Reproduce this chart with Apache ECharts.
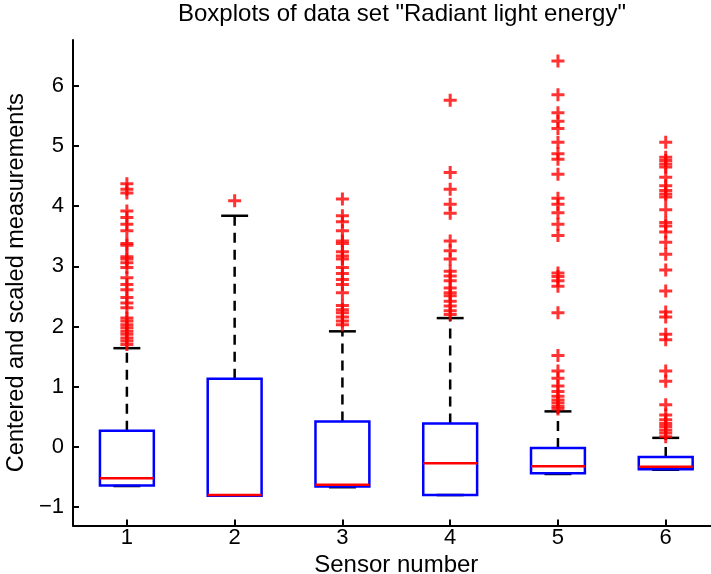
<!DOCTYPE html>
<html>
<head>
<meta charset="utf-8">
<script src="https://cdn.jsdelivr.net/npm/echarts@6/dist/echarts.min.js"></script>
<style>html,body{margin:0;padding:0;background:#fff}#c{width:711px;height:574px}</style>
</head>
<body>
<div id="c"></div>
<script>
// ---- data ----
const sensors = ['1', '2', '3', '4', '5', '6'];
const whiskerLow  = [-0.65, -0.81, -0.67, -0.80, -0.45, -0.38];
const q1          = [-0.64, -0.81, -0.66, -0.80, -0.44, -0.37];
const medians     = [-0.52, -0.80, -0.63, -0.27, -0.32, -0.33];
const q3          = [ 0.27,  1.13,  0.42,  0.39, -0.02, -0.17];
const whiskerHigh = [ 1.64,  3.84,  1.92,  2.14,  0.59,  0.15];

const outliers1 = [4.37, 4.28, 4.22, 3.92, 3.81, 3.70, 3.59, 3.38, 3.35, 3.16, 3.12, 3.06, 2.98, 2.81, 2.70, 2.61, 2.48, 2.39, 2.31, 2.14, 2.09, 2.03, 1.98, 1.92, 1.87, 1.81, 1.76, 1.70];
const outliers2 = [4.09];
const outliers3 = [4.12, 3.84, 3.74, 3.59, 3.42, 3.38, 3.24, 3.17, 3.12, 2.98, 2.88, 2.78, 2.70, 2.56, 2.35, 2.28, 2.23, 2.16, 2.09, 2.03];
const outliers4 = [5.76, 4.56, 4.28, 4.03, 3.88, 3.42, 3.26, 3.12, 2.92, 2.84, 2.76, 2.64, 2.56, 2.51, 2.42, 2.34, 2.26, 2.20];
const outliers5 = [6.41, 5.85, 5.55, 5.41, 5.29, 5.06, 4.87, 4.78, 4.53, 4.13, 4.03, 3.89, 3.70, 3.51, 2.89, 2.83, 2.76, 2.67, 2.23, 1.52, 1.26, 1.14, 1.01, 0.92, 0.84, 0.78, 0.73, 0.67, 0.63];
const outliers6 = [5.06, 4.81, 4.76, 4.70, 4.65, 4.48, 4.34, 4.26, 4.20, 4.15, 3.94, 3.73, 3.67, 3.57, 3.40, 3.20, 2.94, 2.59, 2.24, 2.16, 1.87, 1.78, 1.26, 1.09, 0.70, 0.53, 0.45, 0.39, 0.34, 0.28, 0.23, 0.17];
const outlierSets = [outliers1, outliers2, outliers3, outliers4, outliers5, outliers6];

const yTicks = [-1, 0, 1, 2, 3, 4, 5, 6];
const titleText = 'Boxplots of data set "Radiant light energy"';
const xName = 'Sensor number';
const yName = 'Centered and scaled measurements';

// ---- build ----
const FONT = '"Liberation Sans", Arial, Helvetica, sans-serif';
const boxData = sensors.map((s, i) => [i, whiskerLow[i], q1[i], medians[i], q3[i], whiskerHigh[i]]);
const outlierData = [];
outlierSets.forEach((arr, i) => arr.forEach(v => outlierData.push([i, v])));

function renderBox(params, api) {
  const idx = api.value(0);
  const band = api.size([1, 0])[0];
  const half = band * 0.25;
  const capHalf = band * 0.125;
  const pLow = api.coord([idx, api.value(1)]);
  const pQ1 = api.coord([idx, api.value(2)]);
  const pMed = api.coord([idx, api.value(3)]);
  const pQ3 = api.coord([idx, api.value(4)]);
  const pHigh = api.coord([idx, api.value(5)]);
  const x = pQ1[0];
  const dash = { stroke: '#000', lineWidth: 2.5, lineDash: [10, 7] };
  const solid = { stroke: '#000', lineWidth: 2.5 };
  return {
    type: 'group',
    children: [
      { type: 'line', shape: { x1: x, y1: pQ3[1], x2: x, y2: pHigh[1] }, style: dash },
      { type: 'line', shape: { x1: x, y1: pQ1[1], x2: x, y2: pLow[1] }, style: dash },
      { type: 'line', shape: { x1: x - capHalf, y1: pHigh[1], x2: x + capHalf, y2: pHigh[1] }, style: solid },
      { type: 'line', shape: { x1: x - capHalf, y1: pLow[1], x2: x + capHalf, y2: pLow[1] }, style: solid },
      { type: 'rect', shape: { x: x - half, y: pQ3[1], width: half * 2, height: pQ1[1] - pQ3[1] },
        style: { fill: 'none', stroke: '#0000ff', lineWidth: 2.5 } },
      { type: 'line', shape: { x1: x - half, y1: pMed[1], x2: x + half, y2: pMed[1] },
        style: { stroke: '#ff0000', lineWidth: 2.5 } }
    ]
  };
}

const chart = echarts.init(document.getElementById('c'), null, { renderer: 'canvas' });
chart.setOption({
  animation: false,
  backgroundColor: '#fff',
  title: {
    text: titleText, left: 397, top: -3, textAlign: 'center',
    textStyle: { fontFamily: FONT, fontSize: 24, fontWeight: 'normal', color: '#000' }
  },
  grid: { left: 73, right: -8.6, top: 40, bottom: 48.5, containLabel: false, outerBoundsMode: 'none' },
  xAxis: {
    type: 'category', data: sensors, boundaryGap: true,
    name: xName, nameLocation: 'middle', nameGap: 21,
    nameTextStyle: { fontFamily: FONT, fontSize: 24, color: '#000' },
    axisLine: { show: true, onZero: false, lineStyle: { color: '#000', width: 2 } },
    axisTick: { show: true, alignWithLabel: true, inside: true, length: 6, lineStyle: { color: '#000', width: 2 } },
    axisLabel: { fontFamily: FONT, fontSize: 22, color: '#000', margin: 1 },
    splitLine: { show: false }
  },
  yAxis: {
    type: 'value', min: -1.306, max: 6.76,
    name: yName, nameLocation: 'middle', nameGap: 41, nameRotate: 90,
    nameTextStyle: { fontFamily: FONT, fontSize: 23.5, color: '#000' },
    axisLine: { show: true, onZero: false, lineStyle: { color: '#000', width: 2 } },
    axisTick: { show: true, inside: true, length: 6, customValues: yTicks, lineStyle: { color: '#000', width: 2 } },
    axisLabel: { fontFamily: FONT, fontSize: 22, color: '#000', margin: 9, customValues: yTicks,
      formatter: v => String(v).replace('-', '\u2212') },
    splitLine: { show: false }
  },
  series: [
    {
      type: 'custom', renderItem: renderBox, data: boxData,
      encode: { x: 0, y: [1, 2, 3, 4, 5] }, z: 2
    },
    {
      type: 'scatter', data: outlierData,
      symbol: 'path://M5,0H8V5H13V8H8V13H5V8H0V5H5Z', symbolSize: 13,
      itemStyle: { color: '#ff0000' }, z: 3
    }
  ]
});
</script>
</body>
</html>
